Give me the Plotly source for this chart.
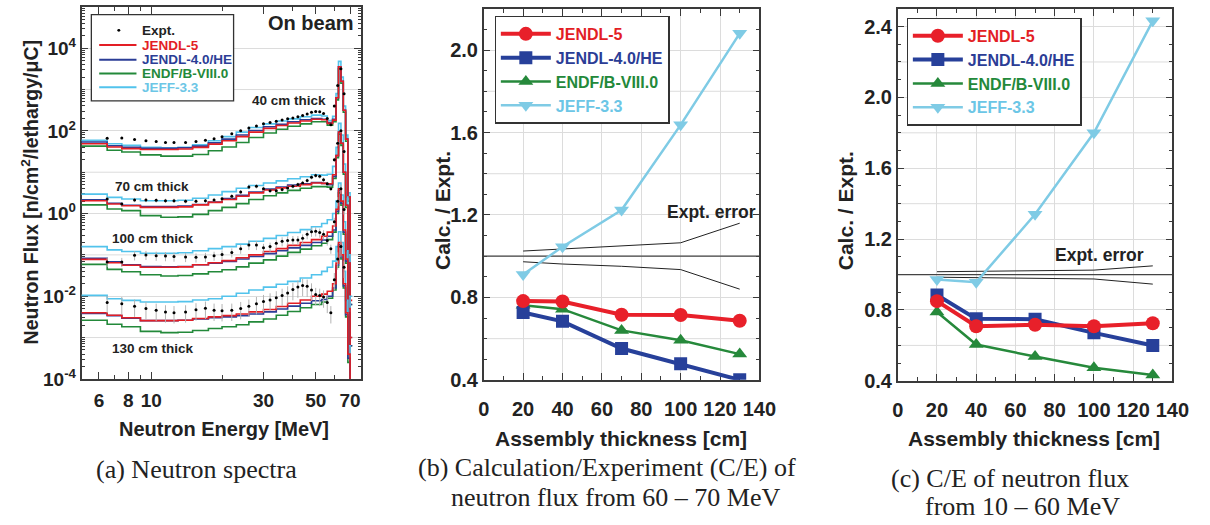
import plotly.graph_objects as go

# ---------------- panel (a): neutron spectra (values read as log10 of flux) ----------------
E_EDGES = [5, 5.5, 6.5, 7.5, 9, 11, 13, 15, 17.5, 20, 23, 26, 30, 34, 38, 43, 48, 53, 56, 59,
           61, 62.5, 64, 65.5, 67, 68.5, 70, 71.5]

LOG_FLUX = {
    40: {
        "JEFF-3.3":      [1.77, 1.77, 1.69, 1.65, 1.60, 1.59, 1.60, 1.66, 1.76, 1.86, 1.97, 2.08, 2.17, 2.24,
                          2.29, 2.34, 2.38, 2.36, 2.25, 2.35, 2.90, 3.68, 3.30, 2.60, 1.90, 0.50, -2.0],
        "ENDF/B-VIII.0": [1.63, 1.63, 1.53, 1.49, 1.42, 1.39, 1.39, 1.43, 1.52, 1.61, 1.72, 1.84, 1.95, 2.04,
                          2.11, 2.17, 2.22, 2.22, 2.14, 2.22, 2.75, 3.50, 3.15, 2.45, 1.75, 0.30, -2.2],
        "JENDL-4.0/HE":  [1.73, 1.73, 1.64, 1.60, 1.58, 1.58, 1.59, 1.63, 1.71, 1.80, 1.90, 2.01, 2.10, 2.16,
                          2.22, 2.27, 2.30, 2.28, 2.20, 2.28, 2.80, 3.55, 3.20, 2.50, 1.80, 0.40, -2.2],
        "JENDL-5":       [1.69, 1.69, 1.61, 1.57, 1.55, 1.55, 1.56, 1.60, 1.68, 1.76, 1.86, 1.97, 2.06, 2.13,
                          2.19, 2.24, 2.28, 2.27, 2.18, 2.26, 2.80, 3.55, 3.20, 2.50, 1.80, 0.40, -2.1],
    },
    70: {
        "JEFF-3.3":      [0.47, 0.47, 0.39, 0.35, 0.31, 0.31, 0.32, 0.37, 0.45, 0.53, 0.61, 0.68, 0.74, 0.79,
                          0.84, 0.89, 0.94, 0.93, 0.95, 1.14, 1.60, 2.18, 1.90, 1.20, 0.40, -1.0, -3.0],
        "ENDF/B-VIII.0": [0.21, 0.21, 0.11, 0.07, -0.05, -0.09, -0.08, -0.02, 0.07, 0.15, 0.24, 0.34, 0.43, 0.50,
                          0.56, 0.61, 0.65, 0.65, 0.64, 0.85, 1.35, 1.92, 1.65, 0.95, 0.15, -1.3, -3.2],
        "JENDL-4.0/HE":  [0.33, 0.33, 0.25, 0.20, 0.17, 0.17, 0.18, 0.22, 0.28, 0.36, 0.44, 0.52, 0.59, 0.64,
                          0.69, 0.72, 0.75, 0.73, 0.70, 0.90, 1.40, 1.97, 1.70, 1.00, 0.20, -1.2, -3.2],
        "JENDL-5":       [0.31, 0.31, 0.23, 0.19, 0.15, 0.15, 0.16, 0.21, 0.27, 0.34, 0.42, 0.50, 0.57, 0.62,
                          0.66, 0.70, 0.74, 0.73, 0.72, 0.94, 1.40, 1.97, 1.70, 1.00, 0.20, -1.2, -3.0],
    },
    100: {
        "JEFF-3.3":      [-0.80, -0.80, -0.88, -0.92, -0.96, -0.96, -0.95, -0.90, -0.85, -0.80, -0.74, -0.67, -0.60, -0.53,
                          -0.46, -0.39, -0.32, -0.24, -0.15, 0.00, 0.30, 0.74, 0.45, -0.20, -0.90, -2.0, -4.5],
        "ENDF/B-VIII.0": [-1.23, -1.23, -1.35, -1.41, -1.48, -1.51, -1.50, -1.46, -1.41, -1.36, -1.29, -1.20, -1.12, -1.03,
                          -0.94, -0.86, -0.78, -0.72, -0.63, -0.45, 0.00, 0.50, 0.20, -0.50, -1.20, -2.5, -4.6],
        "JENDL-4.0/HE":  [-1.08, -1.08, -1.17, -1.24, -1.28, -1.29, -1.28, -1.24, -1.20, -1.16, -1.10, -1.04, -0.97, -0.90,
                          -0.83, -0.77, -0.70, -0.64, -0.55, -0.40, 0.05, 0.55, 0.25, -0.45, -1.15, -2.4, -4.6],
        "JENDL-5":       [-1.11, -1.11, -1.19, -1.25, -1.30, -1.30, -1.29, -1.24, -1.19, -1.14, -1.07, -1.00, -0.92, -0.85,
                          -0.77, -0.70, -0.63, -0.55, -0.45, -0.30, 0.10, 0.60, 0.30, -0.40, -1.10, -2.3, -4.5],
    },
    130: {
        "JEFF-3.3":      [-1.98, -1.98, -2.06, -2.10, -2.14, -2.14, -2.13, -2.09, -2.06, -2.00, -1.93, -1.85, -1.78, -1.71,
                          -1.64, -1.56, -1.48, -1.40, -1.30, -1.15, -0.80, -0.44, -0.70, -1.40, -2.10, -3.2, -4.6],
        "ENDF/B-VIII.0": [-2.58, -2.58, -2.68, -2.74, -2.85, -2.88, -2.87, -2.83, -2.78, -2.74, -2.69, -2.62, -2.55, -2.46,
                          -2.37, -2.28, -2.20, -2.14, -2.05, -1.85, -1.30, -0.80, -1.10, -1.80, -2.50, -3.6, -4.8],
        "JENDL-4.0/HE":  [-2.42, -2.42, -2.47, -2.53, -2.59, -2.59, -2.58, -2.55, -2.52, -2.50, -2.47, -2.43, -2.38, -2.31,
                          -2.24, -2.17, -2.11, -2.08, -2.00, -1.80, -1.25, -0.75, -1.05, -1.75, -2.45, -3.5, -4.8],
        "JENDL-5":       [-2.40, -2.40, -2.46, -2.52, -2.59, -2.59, -2.58, -2.54, -2.50, -2.47, -2.43, -2.38, -2.32, -2.25,
                          -2.17, -2.09, -2.00, -1.95, -1.88, -1.70, -1.20, -0.70, -1.00, -1.70, -2.40, -3.4, -4.8],
    },
}

EXPT_E = [6.5, 7.5, 8.5, 9.5, 10.5, 11.5, 12.5, 14, 15.5, 17, 18.5, 20, 22, 24, 26, 28, 30, 32, 34, 36,
          38, 40, 42, 44, 46, 48, 50, 52, 54, 56, 58, 60, 62, 64, 66]
EXPT_LOG = {
    40:  [1.82, 1.83, 1.79, 1.76, 1.74, 1.72, 1.72, 1.72, 1.74, 1.77, 1.81, 1.86, 1.93, 2.00, 2.07, 2.12, 2.17,
          2.20, 2.23, 2.26, 2.29, 2.31, 2.34, 2.37, 2.41, 2.45, 2.47, 2.46, 2.42, 2.30, 2.15, 2.60, 3.10, 3.50, 2.90],
    70:  [0.35, 0.23, 0.33, 0.33, 0.32, 0.31, 0.31, 0.30, 0.30, 0.31, 0.33, 0.36, 0.42, 0.52, 0.64, 0.66, 0.60,
          0.55, 0.55, 0.58, 0.62, 0.66, 0.70, 0.74, 0.80, 0.88, 0.92, 0.90, 0.82, 0.72, 0.60, 1.30, 1.70, 2.00, 1.50],
    100: [-1.17, -1.17, -1.01, -1.00, -1.02, -1.03, -1.04, -1.05, -1.06, -1.05, -1.02, -0.99, -0.94, -0.85, -0.76,
          -0.76, -0.83, -0.80, -0.72, -0.67, -0.65, -0.64, -0.64, -0.60, -0.50, -0.44, -0.43, -0.46, -0.50, -0.65,
          -0.85, -0.20, 0.30, 0.60, 0.10],
    130: [-2.15, -2.18, -2.24, -2.30, -2.34, -2.38, -2.40, -2.38, -2.33, -2.29, -2.34, -2.35, -2.34, -2.30, -2.24,
          -2.18, -2.13, -2.09, -2.04, -1.98, -1.92, -1.84, -1.78, -1.74, -1.76, -1.85, -1.96, -1.98, -2.02, -2.15,
          -2.40, -1.60, -1.10, -0.80, -1.30],
}
EXPT_ERR_PCT = {40: 6, 70: 12, 100: 25, 130: 45}
THICK_LABELS = {40: "40 cm thick", 70: "70 cm thick", 100: "100 cm thick", 130: "130 cm thick"}

# ---------------- panels (b), (c): C/E ----------------
THICKNESS = [20, 40, 70, 100, 130]
CE_B = {
    "JENDL-5":       [0.782, 0.780, 0.716, 0.715, 0.687],
    "JENDL-4.0/HE":  [0.727, 0.684, 0.552, 0.478, 0.400],
    "ENDF/B-VIII.0": [0.762, 0.743, 0.640, 0.592, 0.525],
    "JEFF-3.3":      [0.911, 1.046, 1.224, 1.637, 2.081],
}
ERR_B_UP = [1.025, 1.035, 1.048, 1.065, 1.160]
ERR_B_LO = [0.973, 0.962, 0.951, 0.935, 0.840]

CE_C = {
    "JENDL-5":       [0.850, 0.708, 0.717, 0.708, 0.725],
    "JENDL-4.0/HE":  [0.885, 0.750, 0.748, 0.671, 0.600],
    "ENDF/B-VIII.0": [0.789, 0.605, 0.537, 0.474, 0.433],
    "JEFF-3.3":      [0.972, 0.957, 1.340, 1.800, 2.432],
}
ERR_C_UP = [1.016, 1.018, 1.020, 1.025, 1.049]
ERR_C_LO = [0.985, 0.982, 0.980, 0.975, 0.946]

LIBS = ["JENDL-5", "JENDL-4.0/HE", "ENDF/B-VIII.0", "JEFF-3.3"]

# ---------------- styles ----------------
COL_A = {"JENDL-5": "#e31e25", "JENDL-4.0/HE": "#2b3d96", "ENDF/B-VIII.0": "#23893a", "JEFF-3.3": "#52c3ec"}
COL_CE = {"JENDL-5": "#e8202a", "JENDL-4.0/HE": "#27409a", "ENDF/B-VIII.0": "#26893b", "JEFF-3.3": "#7fcbe5"}
TXT_COL = {"JENDL-5": "#e31e25", "JENDL-4.0/HE": "#2b3d96", "ENDF/B-VIII.0": "#23893a", "JEFF-3.3": "#6cc6e6"}
SYM = {"JENDL-5": "circle", "JENDL-4.0/HE": "square", "ENDF/B-VIII.0": "triangle-up", "JEFF-3.3": "triangle-down"}
LW = {"JENDL-5": 4, "JENDL-4.0/HE": 4, "ENDF/B-VIII.0": 2.5, "JEFF-3.3": 2.5}
MS = {"JENDL-5": 14, "JENDL-4.0/HE": 13, "ENDF/B-VIII.0": 13, "JEFF-3.3": 13}
RANK = {"JENDL-5": 2, "JENDL-4.0/HE": 3, "ENDF/B-VIII.0": 4, "JEFF-3.3": 5}

SANS = "Liberation Sans, Arial, sans-serif"
SERIF = "Liberation Serif, Times New Roman, serif"
AX = "#3a3a3a"
GRID = "#dcdcdc"
W, H = 1210, 525


def px(xp):
    return xp / W


def py(yp):
    return 1 - yp / H


fig = go.Figure()

# panel (a) traces
draw_order = ["JEFF-3.3", "ENDF/B-VIII.0", "JENDL-4.0/HE", "JENDL-5"]
for t in [40, 70, 100, 130]:
    for lib in draw_order:
        vals = [10 ** v for v in LOG_FLUX[t][lib]]
        fig.add_trace(go.Scatter(
            x=E_EDGES, y=vals + [vals[-1]], mode="lines", line_shape="hv",
            line=dict(color=COL_A[lib], width=1.6), name=lib, showlegend=False,
            xaxis="x", yaxis="y", hoverinfo="skip"))
for t in [40, 70, 100, 130]:
    fig.add_trace(go.Scatter(
        x=EXPT_E, y=[10 ** v for v in EXPT_LOG[t]], mode="markers",
        marker=dict(color="black", size=3),
        error_y=dict(type="percent", value=EXPT_ERR_PCT[t], color="#b4b4b4", thickness=1, width=0),
        name="Expt.", showlegend=False, xaxis="x", yaxis="y", hoverinfo="skip"))

# panels (b), (c) traces
for (ce, up, lo, xa, ya, leg) in [(CE_B, ERR_B_UP, ERR_B_LO, "x2", "y2", "legend2"),
                                    (CE_C, ERR_C_UP, ERR_C_LO, "x3", "y3", "legend3")]:
    fig.add_trace(go.Scatter(x=[0, 140], y=[1, 1], mode="lines", line=dict(color="#444", width=1.3),
                             showlegend=False, xaxis=xa, yaxis=ya, hoverinfo="skip"))
    fig.add_trace(go.Scatter(x=THICKNESS, y=up, mode="lines", line=dict(color="#222", width=1),
                             showlegend=False, xaxis=xa, yaxis=ya, hoverinfo="skip"))
    fig.add_trace(go.Scatter(x=THICKNESS, y=lo, mode="lines", line=dict(color="#222", width=1),
                             showlegend=False, xaxis=xa, yaxis=ya, hoverinfo="skip"))
    for lib in ["JEFF-3.3", "ENDF/B-VIII.0", "JENDL-4.0/HE", "JENDL-5"]:
        fig.add_trace(go.Scatter(
            x=THICKNESS, y=ce[lib], mode="lines+markers",
            line=dict(color=COL_CE[lib], width=LW[lib]),
            marker=dict(color=COL_CE[lib], size=MS[lib], symbol=SYM[lib]),
            name=f"<span style='color:{TXT_COL[lib]}'>{lib}</span>",
            legend=leg, legendrank=RANK[lib], xaxis=xa, yaxis=ya, hoverinfo="skip"))

# ---------------- axes ----------------
common = dict(showline=True, linecolor=AX, linewidth=1.5, mirror="ticks", ticks="inside",
              tickcolor=AX, zeroline=False, layer="below traces")

even_dec = [10 ** k for k in range(-4, 5, 2)]
even_txt = ["10<sup>%d</sup>" % k for k in range(-4, 5, 2)]
minor_y = [m * 10 ** k for k in range(-4, 5) for m in range(1, 10) if not (m == 1 and k % 2 == 0)]

layout = dict(
    width=W, height=H, margin=dict(l=0, r=0, t=0, b=0),
    paper_bgcolor="white", plot_bgcolor="white", showlegend=True,
    xaxis=dict(domain=[px(77), px(362)], type="log", range=[0.704, 1.892],
               tickvals=[6, 8, 10, 30, 50, 70], ticktext=["6", "8", "10", "30", "50", "70"],
               ticklen=7, tickwidth=1.3, showgrid=False, ticklabelstandoff=4,
               minor=dict(tickvals=[5, 7, 9, 20, 40, 60], ticks="inside", ticklen=4, tickcolor=AX, showgrid=False),
               tickfont=dict(family=SANS, size=19, color="#222", weight="bold"), anchor="y", **common),
    yaxis=dict(domain=[py(387), py(7)], type="log", range=[-4, 5],
               tickvals=even_dec, ticktext=even_txt, ticklen=7, tickwidth=1.3,
               showgrid=True, gridcolor=GRID,
               minor=dict(tickvals=minor_y, ticks="inside", ticklen=3.5, tickcolor=AX, showgrid=False),
               tickfont=dict(family=SANS, size=19, color="#222", weight="bold"), anchor="x", **common),
)

for (xn, yn, yr, ylab, xdom, ydom) in [("xaxis2", "yaxis2", [0.4, 2.2], [0.4, 0.8, 1.2, 1.6, 2.0],
                                        [px(487), px(768)], [py(388), py(9)]),
                                       ("xaxis3", "yaxis3", [0.4, 2.5], [0.4, 0.8, 1.2, 1.6, 2.0, 2.4],
                                        [px(909), px(1189)], [py(389), py(9)])]:
    a_x = "x" + xn[-1]
    a_y = "y" + yn[-1]
    layout[xn] = dict(domain=xdom, range=[0, 140], tickvals=list(range(0, 141, 20)),
                      ticklen=7, tickwidth=1.3, showgrid=True, gridcolor=GRID, ticklabelstandoff=10,
                      minor=dict(dtick=10, ticks="inside", ticklen=4, tickcolor=AX, showgrid=False),
                      tickfont=dict(family=SANS, size=20, color="#222", weight="bold"), anchor=a_y, **common)
    layout[yn] = dict(domain=ydom, range=yr, tickvals=ylab, ticktext=["%.1f" % v for v in ylab],
                      ticklen=7, tickwidth=1.3, showgrid=True, gridcolor=GRID,
                      minor=dict(dtick=0.1, ticks="inside", ticklen=4, tickcolor=AX, showgrid=False),
                      tickfont=dict(family=SANS, size=20, color="#222", weight="bold"), anchor=a_x, **common)

leg_common = dict(bgcolor="white", bordercolor="#333", borderwidth=1.3, xanchor="left", yanchor="top",
                  traceorder="normal", itemwidth=50)
layout["legend2"] = dict(x=px(498), y=py(16), font=dict(family=SANS, size=16, color="#222", weight="bold"),
                         **leg_common)
layout["legend3"] = dict(x=px(918), y=py(18), font=dict(family=SANS, size=16, color="#222", weight="bold"),
                         **leg_common)
fig.update_layout(**layout)

# extra gridlines (odd decades in (a), 10 MeV line, intermediate 0.2 lines in (b),(c))
for k in range(-3, 5, 2):
    fig.add_shape(type="line", xref="x domain", yref="y", x0=0, x1=1, y0=10 ** k, y1=10 ** k,
                  line=dict(color=GRID, width=1), layer="below")
fig.add_shape(type="line", xref="x", yref="y domain", x0=1, x1=1, y0=0, y1=1,
              line=dict(color=GRID, width=1), layer="below")
for (xr, yr, vals) in [("x2 domain", "y2", [0.6, 1.0, 1.4, 1.8]), ("x3 domain", "y3", [0.6, 1.0, 1.4, 1.8, 2.2])]:
    for v in vals:
        fig.add_shape(type="line", xref=xr, yref=yr, x0=0, x1=1, y0=v, y1=v,
                      line=dict(color=GRID, width=1), layer="below")


# ---------------- annotations ----------------
def ann(text, xp, yp, size, family=SANS, bold=True, angle=0, xanchor="center", color="#222"):
    fig.add_annotation(text=text, x=px(xp), y=py(yp), xref="paper", yref="paper", showarrow=False,
                       xanchor=xanchor, yanchor="middle", textangle=angle,
                       font=dict(family=family, size=size, color=color, weight="bold" if bold else "normal"))


# compact legend of panel (a), drawn in paper space
fig.add_shape(type="rect", xref="paper", yref="paper", x0=px(87), x1=px(232), y0=py(103), y1=py(15),
              line=dict(color="#333", width=1.3), fillcolor="white", layer="above")
LEG_A_ROWS = [31, 46, 61, 75, 89]
fig.add_shape(type="circle", xref="paper", yref="paper", x0=px(113.5), x1=px(116.5),
              y0=py(LEG_A_ROWS[0] + 1.5), y1=py(LEG_A_ROWS[0] - 1.5),
              fillcolor="black", line=dict(color="black", width=0), layer="above")
ann("Expt.", 137, LEG_A_ROWS[0], 13.5, xanchor="left")
for row, lib in zip(LEG_A_ROWS[1:], LIBS):
    fig.add_shape(type="line", xref="paper", yref="paper", x0=px(95), x1=px(133), y0=py(row), y1=py(row),
                  line=dict(color=COL_A[lib], width=2), layer="above")
    ann(lib, 137, row, 13.5, xanchor="left", color=TXT_COL[lib])

ann("On beam", 311, 24, 20)
ann(THICK_LABELS[40], 288, 103, 13.5)
ann(THICK_LABELS[70], 149, 190, 13.5)
ann(THICK_LABELS[100], 150, 244, 13.5)
ann(THICK_LABELS[130], 150, 356, 13.5)
ann("Neutron Flux [n/cm<sup>2</sup>/lethargy/μC]", 24, 197, 19.5, angle=-90)
ann("Neutron Energy [MeV]", 222, 438, 20)
ann("Calc. / Expt.", 445, 215, 21, angle=-90)
ann("Calc. / Expt.", 856, 215, 21, angle=-90)
ann("Assembly thickness [cm]", 627, 448, 21)
ann("Assembly thickness [cm]", 1048, 448, 21)
ann("Expt. error", 719, 217, 17.5)
ann("Expt. error", 1115, 260, 17.5)
ann("(a) Neutron spectra", 194, 480, 26, family=SERIF, bold=False)
ann("(b) Calculation/Experiment (C/E) of", 613, 478, 26, family=SERIF, bold=False)
ann("neutron flux from 60 – 70 MeV", 622, 508, 26, family=SERIF, bold=False)
ann("(c) C/E of neutron flux", 1023, 489, 26, family=SERIF, bold=False)
ann("from 10 – 60 MeV", 1036, 517, 26, family=SERIF, bold=False)

fig.write_html("out.html")
